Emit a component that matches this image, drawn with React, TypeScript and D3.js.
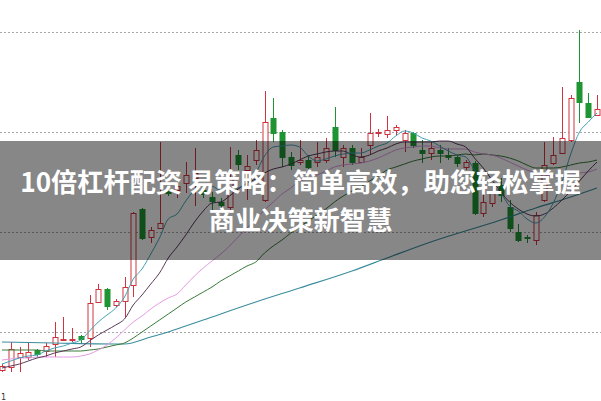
import React from 'react';
import * as d3 from 'd3';

const W = 601;
const H = 401;

// OHLC (price units)
const opens = [5.62,5.65,5.75,5.75,5.82,5.81,5.88,5.92,5.92,5.96,5.94,6.30,6.43,6.27,6.31,6.47,7.23,6.95,7.04,7.41,7.42,7.49,7.54,7.42,7.35,7.30,7.25,7.77,7.62,7.72,7.32,8.14,8.00,7.75,7.70,7.72,7.70,7.72,8.05,7.75,7.84,7.70,7.87,7.99,7.98,8.02,7.92,7.99,7.82,7.79,7.82,7.77,7.75,7.65,7.69,7.19,7.29,7.47,7.25,7.00,6.95,6.92,7.32,7.69,7.79,7.92,8.50,8.29,8.17];
const closes = [5.66,5.83,5.79,5.80,5.78,5.86,5.95,5.93,5.93,5.93,6.29,6.43,6.26,6.31,6.45,7.19,6.94,7.02,7.09,7.39,7.46,7.57,7.59,7.38,7.31,7.27,7.54,7.68,7.66,7.82,8.10,7.99,7.75,7.67,7.72,7.65,7.75,7.84,7.82,7.84,7.70,7.75,7.99,8.00,8.02,8.05,7.99,7.87,7.79,7.84,7.79,7.75,7.69,7.70,7.19,7.30,7.40,7.37,7.04,6.92,6.94,7.17,7.67,7.77,7.94,8.34,8.30,8.15,8.23];
const highs = [5.68,5.90,5.85,5.90,5.83,5.89,6.10,6.15,6.04,5.97,6.37,6.48,6.44,6.33,6.55,7.20,7.24,7.05,7.90,7.45,7.52,7.70,7.84,7.47,7.40,7.34,7.85,7.82,7.77,7.92,8.41,8.34,8.02,7.80,7.92,7.77,7.90,7.94,8.25,7.87,7.87,7.84,8.19,8.03,8.16,8.07,8.02,8.00,7.92,7.90,7.87,7.84,7.77,7.72,7.71,7.40,7.45,7.54,7.32,7.08,6.97,7.20,7.90,7.95,8.45,8.37,9.02,8.39,8.37];
const lows = [5.60,5.60,5.60,5.72,5.75,5.75,5.75,5.91,5.90,5.89,5.85,6.29,6.22,6.25,6.15,6.35,6.92,6.89,7.03,7.36,7.34,7.39,7.26,7.34,7.22,7.24,7.21,7.62,7.32,7.67,7.30,7.90,7.65,7.62,7.67,7.62,7.65,7.69,7.75,7.65,7.67,7.69,7.77,7.95,7.94,7.97,7.80,7.84,7.69,7.72,7.69,7.72,7.65,7.62,7.17,7.15,7.25,7.30,7.00,6.90,6.89,6.87,7.30,7.67,7.79,7.90,8.09,8.14,8.16];

// moving average lines
const ma5 = [5.68,5.71,5.74,5.76,5.77,5.81,5.84,5.86,5.89,5.92,6.01,6.10,6.17,6.24,6.35,6.53,6.63,6.78,6.94,7.13,7.18,7.31,7.42,7.48,7.46,7.42,7.42,7.44,7.49,7.59,7.76,7.85,7.86,7.87,7.85,7.76,7.71,7.73,7.76,7.78,7.79,7.79,7.82,7.86,7.89,7.96,8.01,7.99,7.94,7.91,7.86,7.81,7.77,7.75,7.62,7.53,7.46,7.39,7.26,7.21,7.13,7.09,7.15,7.29,7.50,7.78,8.00,8.10,8.19];
const ma10 = [5.64,5.66,5.68,5.71,5.74,5.76,5.79,5.81,5.83,5.85,5.91,5.97,6.02,6.07,6.13,6.27,6.37,6.48,6.59,6.74,6.85,6.97,7.10,7.21,7.29,7.30,7.36,7.43,7.49,7.53,7.59,7.63,7.65,7.68,7.72,7.76,7.78,7.80,7.81,7.81,7.77,7.75,7.77,7.81,7.84,7.88,7.90,7.90,7.90,7.90,7.91,7.91,7.88,7.85,7.74,7.64,7.52,7.40,7.30,7.23,7.18,7.16,7.18,7.24,7.32,7.41,7.51,7.61,7.70];
const ma20 = [5.72,5.73,5.74,5.74,5.75,5.75,5.75,5.75,5.75,5.76,5.78,5.82,5.87,5.94,6.02,6.10,6.16,6.23,6.29,6.34,6.38,6.47,6.56,6.64,6.71,6.78,6.86,6.95,7.04,7.13,7.22,7.30,7.38,7.44,7.51,7.53,7.57,7.61,7.65,7.67,7.68,7.69,7.71,7.74,7.78,7.82,7.84,7.85,7.86,7.86,7.84,7.83,7.83,7.83,7.80,7.78,7.77,7.74,7.70,7.66,7.62,7.59,7.57,7.56,7.56,7.57,7.59,7.60,7.63];
const ma30 = [5.82,5.82,5.82,5.82,5.82,5.81,5.81,5.81,5.81,5.81,5.82,5.83,5.85,5.87,5.89,5.94,6.00,6.06,6.12,6.18,6.24,6.30,6.35,6.40,6.45,6.51,6.56,6.61,6.66,6.70,6.79,6.86,6.92,6.99,7.05,7.11,7.17,7.23,7.30,7.36,7.41,7.45,7.51,7.56,7.62,7.65,7.68,7.71,7.73,7.75,7.76,7.76,7.77,7.78,7.77,7.78,7.77,7.76,7.74,7.71,7.67,7.64,7.64,7.64,7.65,7.67,7.69,7.70,7.72];
const ma60Idx = [0,6,14,17,19,21,23,29,34,40,44,49,57,61,65,68];
const ma60Val = [5.90,5.89,5.88,5.95,6.00,6.06,6.12,6.30,6.44,6.61,6.74,6.90,7.12,7.24,7.35,7.44];

const gridPrices = [6, 7, 8, 9];
const titleLines = ['10倍杠杆配资 易策略：简单高效，助您轻松掌握', '商业决策新智慧'];
const cornerLabel = '1';

const RED = '#d2343f';
const GREEN = '#1f9433';

export default function App() {
  const x = d3.scaleLinear().domain([0, opens.length - 1]).range([2, 597]);
  const y = d3.scaleLinear().domain([6, 9]).range([332, 32]);

  const line = d3
    .line<number>()
    .x((_, i) => x(i))
    .y((d) => y(d))
    .curve(d3.curveMonotoneX);
  const line60 = d3
    .line<number>()
    .x((_, i) => x(ma60Idx[i]))
    .y((d) => y(d))
    .curve(d3.curveMonotoneX);

  const mas = [
    { d: ma60Val, gen: line60, color: '#3b8d9e', w: 1.1 },
    { d: ma30, gen: line, color: '#3a7a38', w: 1 },
    { d: ma20, gen: line, color: '#e29be4', w: 1 },
    { d: ma10, gen: line, color: '#5a3a5c', w: 1 },
    { d: ma5, gen: line, color: '#44a2b6', w: 1 },
  ];

  return (
    <svg
      width={W}
      height={H}
      style={{ position: 'absolute', left: 0, top: 0, background: '#fff' }}
    >
      <rect x={0} y={0} width={W} height={H} fill="#fff" />
      {gridPrices.map((p) => (
        <line
          key={p}
          x1={0}
          x2={W}
          y1={Math.round(y(p)) + 0.5}
          y2={Math.round(y(p)) + 0.5}
          stroke="#a8a8a8"
          strokeWidth={1}
          strokeDasharray="2,2"
        />
      ))}
      {opens.map((o, i) => {
        const c = closes[i];
        const up = c >= o;
        const px = Math.round(x(i));
        const cx = px + 0.5;
        const top = Math.round(y(Math.max(o, c)));
        const bot = Math.round(y(Math.min(o, c)));
        const hi = y(highs[i]);
        const lo = y(lows[i]);
        const col = up ? RED : GREEN;
        return (
          <g key={i}>
            <line x1={cx} x2={cx} y1={hi} y2={top} stroke={col} strokeWidth={1} />
            <line x1={cx} x2={cx} y1={bot} y2={lo} stroke={col} strokeWidth={1} />
            <rect
              x={px - 2}
              y={top + 0.5}
              width={5}
              height={Math.max(bot - top, 0)}
              fill={up ? '#fff' : GREEN}
              stroke={col}
              strokeWidth={1}
            />
          </g>
        );
      })}
      {mas.map((m, k) => (
        <path
          key={k}
          d={(m.gen as any)(m.d) || ''}
          fill="none"
          stroke={m.color}
          strokeWidth={m.w}
        />
      ))}
      <rect x={0} y={141} width={W} height={119} fill="rgba(0,0,0,0.47)" />
      {titleLines.map((t, k) => (
        <text
          key={k}
          x={300.5}
          y={k === 0 ? 192 : 230}
          textAnchor="middle"
          fill="#fff"
          fontFamily="'Noto Sans CJK SC', 'Noto Sans', sans-serif"
          fontWeight={700}
          fontSize={26.2}
        >
          {t}
        </text>
      ))}
      <text x={1} y={400} fontSize={8} fill="#333" fontFamily="'DejaVu Sans', sans-serif">
        {cornerLabel}
      </text>
    </svg>
  );
}
